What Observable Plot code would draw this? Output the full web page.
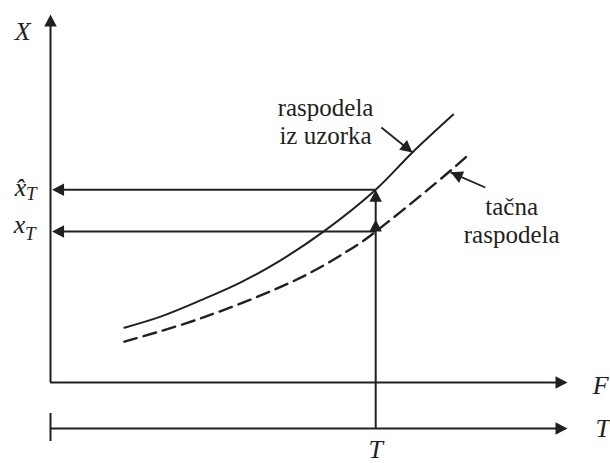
<!DOCTYPE html>
<html>
<head>
<meta charset="utf-8">
<style>
body{margin:0;background:#fff}
</style>
<script src="https://cdn.jsdelivr.net/npm/d3@7"></script>
<script src="https://cdn.jsdelivr.net/npm/@observablehq/plot@0.6"></script>
</head>
<body>
<div id="chart"></div>
<script>
// Schematic units: F (horizontal) 0..100, X (vertical) 0..100
const F_sample = [14.3, 21.3, 29.0, 36.8, 44.5, 52.8, 62.9, 70.0, 77.9];
const X_sample = [14.9, 17.9, 22.3, 27.2, 33.2, 41.0, 52.4, 62.5, 72.8];
const F_true = [14.3, 29.6, 48.4, 60.0, 62.9, 71.6, 77.4, 80.7];
const X_true = [11.1, 17.7, 28.5, 38.0, 41.0, 50.8, 57.6, 61.7];

const T_at = 62.9;      // F position of return period T
const xhatT = 52.4;     // sample quantile at T
const xT = 41.0;        // true quantile at T
const T_axis = -12.5;   // level of the T axis (below F axis)

const axisLabels = ["X", "F", "T", "T"];
const axisLabelF = [-5.4, 106.4, 106.8, T_at];
const axisLabelX = [93.2, -3.0, -14.7, -20.4];

const curveLabels = ["raspodela", "iz uzorka", "tačna", "raspodela"];
const curveLabelF = [53.2, 53.2, 89.2, 89.2];
const curveLabelX = [72.3, 64.7, 45.4, 38.0];

// leader arrows: from (F1,X1) to tip (F2,X2)
const leaders = [
  {F1: 64.0, X1: 69.3, F2: 70.0, X2: 62.5},
  {F1: 84.1, X1: 53.0, F2: 77.4, X2: 57.1}
];

const sample = F_sample.map((f, i) => ({F: f, X: X_sample[i]}));
const truth = F_true.map((f, i) => ({F: f, X: X_true[i]}));
const axisText = axisLabels.map((t, i) => ({t, F: axisLabelF[i], X: axisLabelX[i]}));
const curveText = curveLabels.map((t, i) => ({t, F: curveLabelF[i], X: curveLabelX[i]}));

const kx = 517 / 100, ky = 368 / 100; // pixel per unit (matches scale ranges)
const ink = "#231f20";
const serif = "Liberation Serif";

function arrowSymbol(angle) { // angle in screen degrees, 0 = right, 90 = down
  const a = angle * Math.PI / 180, c = Math.cos(a), s = Math.sin(a);
  return {
    draw(ctx, size) {
      const r = Math.sqrt(size / Math.PI);
      const h = 2.4 * r, w = 2.5 * r;
      ctx.moveTo(0, 0);
      ctx.lineTo(-h * c - (w / 2) * s, -h * s + (w / 2) * c);
      ctx.lineTo(-h * c + (w / 2) * s, -h * s - (w / 2) * c);
      ctx.closePath();
    }
  };
}
const pxUp = 12 / ky;
const heads = [
  {F: 0, X: 100, angle: -90},
  {F: 100, X: 0, angle: 0},
  {F: 100, X: T_axis, angle: 0},
  {F: 0.3, X: xhatT, angle: 180},
  {F: 0.3, X: xT, angle: 180},
  {F: T_at, X: xhatT, angle: -90},
  {F: T_at, X: xT + pxUp, angle: -90},
  ...leaders.map(d => ({F: d.F2, X: d.X2,
    angle: Math.atan2(-(d.X2 - d.X1) * ky, (d.F2 - d.F1) * kx) * 180 / Math.PI}))
];

const chart = Plot.plot({
  width: 610,
  height: 463,
  x: {domain: [0, 100], range: [50, 567], axis: null},
  y: {domain: [0, 100], range: [382, 14], axis: null},
  style: {background: "#fff", overflow: "visible"},
  marks: [
    // axes
    Plot.ruleX([0], {y1: 0, y2: 100 - 6 / ky, stroke: ink, strokeWidth: 2}),
    Plot.ruleY([0], {x1: 0, x2: 100 - 6 / kx, stroke: ink, strokeWidth: 2}),
    Plot.ruleY([T_axis], {x1: 0, x2: 100 - 6 / kx, stroke: ink, strokeWidth: 2}),
    Plot.ruleX([0], {y1: T_axis + 15 / ky, y2: T_axis - 13 / ky, stroke: ink, strokeWidth: 2}),
    // construction lines
    Plot.ruleX([T_at], {y1: T_axis, y2: xhatT - 4 / ky, stroke: ink, strokeWidth: 2}),
    Plot.ruleY([xhatT, xT], {x1: 5 / kx, x2: T_at, stroke: ink, strokeWidth: 2}),
    // curves
    Plot.line(sample, {x: "F", y: "X", curve: "catmull-rom", stroke: ink, strokeWidth: 2}),
    Plot.line(truth, {x: "F", y: "X", curve: "catmull-rom", stroke: ink, strokeWidth: 2.4, strokeDasharray: "13,7"}),
    // leader lines
    Plot.link(leaders, {x1: "F1", y1: "X1", x2: "F2", y2: "X2", stroke: ink, strokeWidth: 1.8}),
    // arrowheads
    ...heads.map(h => Plot.dot([h], {x: "F", y: "X", r: 5, symbol: arrowSymbol(h.angle), fill: ink, stroke: "none"})),
    // labels
    Plot.text(axisText, {x: "F", y: "X", text: "t", fontSize: 26, fontStyle: "italic", fontFamily: serif, fill: ink, textAnchor: "middle", lineAnchor: "bottom"}),
    Plot.text(curveText, {x: "F", y: "X", text: "t", fontSize: 25, fontFamily: serif, fill: ink, textAnchor: "middle", lineAnchor: "bottom"}),
    Plot.text([{t: "x\u0302", F: -5.8, X: 50.8}, {t: "x", F: -6.0, X: 40.5}],
      {x: "F", y: "X", text: "t", fontSize: 26, fontStyle: "italic", fontFamily: serif, fill: ink, textAnchor: "middle", lineAnchor: "bottom"}),
    Plot.text([{t: "T", F: -3.7, X: 49.5}, {t: "T", F: -3.9, X: 38.6}],
      {x: "F", y: "X", text: "t", fontSize: 19, fontStyle: "italic", fontFamily: serif, fill: ink, textAnchor: "middle", lineAnchor: "bottom"})
  ]
});
d3.select(chart).selectAll("text").style("font-family", "'Liberation Serif', 'DejaVu Serif', serif");
document.getElementById("chart").appendChild(chart);
</script>
</body>
</html>
